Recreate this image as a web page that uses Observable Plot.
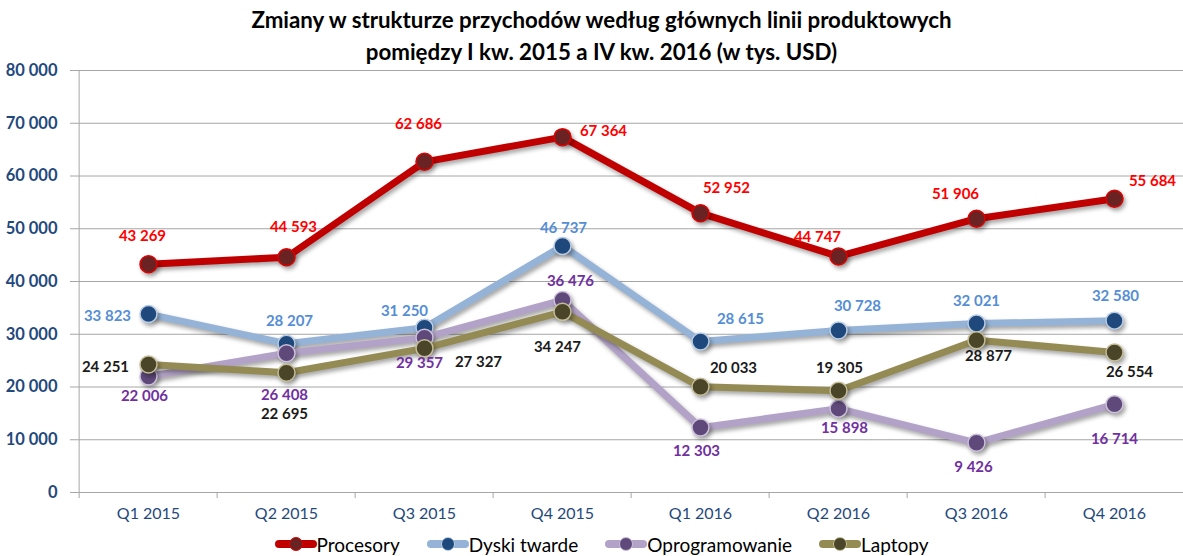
<!DOCTYPE html>
<html>
<head>
<meta charset="utf-8">
<script src="https://cdn.jsdelivr.net/npm/d3@7"></script>
<script src="https://cdn.jsdelivr.net/npm/@observablehq/plot@0.6"></script>
<style>
  html, body { margin: 0; padding: 0; background: #fff; }
  body { width: 1183px; height: 556px; position: relative; overflow: hidden; font-family: Lato, "Open Sans", sans-serif; }
  #title { position: absolute; top: 4px; left: 10px; width: 1183px; text-align: center; font-weight: bold; font-size: 22.3px; line-height: 32px; color: #000; }
  #chart { position: absolute; top: 62px; left: 0; }
  #legend { position: absolute; top: 531px; left: 10px; width: 1183px; display: flex; justify-content: center; gap: 27px; font-size: 19px; color: #000; }
  #legend .item { display: flex; align-items: center; gap: 0px; height: 26px; }
  g[aria-label="line"] path, g[aria-label="dot"] circle { filter: drop-shadow(2px 3px 2px rgba(0,0,0,0.35)); }
</style>
</head>
<body>
<div id="title">Zmiany w strukturze przychodów według głównych linii produktowych<br>pomiędzy I kw. 2015 a IV kw. 2016 (w tys. USD)</div>
<div id="chart"></div>
<div id="legend"></div>
<script>
// ---- data ----
const quarters = ["Q1 2015", "Q2 2015", "Q3 2015", "Q4 2015", "Q1 2016", "Q2 2016", "Q3 2016", "Q4 2016"];
const seriesNames = ["Procesory", "Dyski twarde", "Oprogramowanie", "Laptopy"];
const procesory = [43269, 44593, 62686, 67364, 52952, 44747, 51906, 55684];
const dyskiTwarde = [33823, 28207, 31250, 46737, 28615, 30728, 32021, 32580];
const oprogramowanie = [22006, 26408, 29357, 36476, 12303, 15898, 9426, 16714];
const laptopy = [24251, 22695, 27327, 34247, 20033, 19305, 28877, 26554];
const yTicks = [0, 10000, 20000, 30000, 40000, 50000, 60000, 70000, 80000];

// ---- styles ----
const seriesValues = [procesory, dyskiTwarde, oprogramowanie, laptopy];
const lineColors = ["#C00000", "#95B3D7", "#B3A2C7", "#948A54"];
const dotFill = ["#6B2222", "#1F497D", "#5F497A", "#4A4528"];
const dotStroke = ["#E00000", "#B9CDE5", "#CCC1DA", "#C4BD97"];
const labelColors = ["#FF0000", "#558ED5", "#7030A0", "#1A1A1A"];
// label placement offsets [dx, dy] per series/point
const labelOffsets = [
  [[-6,-28],[7,-30],[-6,-38],[41,-6],[26,-25],[-21,-19],[-21,-25],[38,-18]],
  [[-41,2],[3,-23],[-20,-16],[1,-18],[40,-22],[19,-24],[0,-22],[1,-24]],
  [[-4,20],[-2,42],[-5,26],[8,-19],[-4,24],[6,20],[-3,24],[0,35]],
  [[-43,3],[-2,41],[54,14],[-5,35],[33,-19],[1,-22],[12,16],[15,20]]
];

const fmt = v => d3.format(",")(v).replace(/,/g, " ");
const data = seriesNames.flatMap((name, i) => quarters.map((q, j) => ({series: name, q, value: seriesValues[i][j], i, j})));

const W = 1183, H = 462;
const xLeft = 76, xRight = 1186;
const step = (xRight - xLeft) / quarters.length;

const marks = [
  Plot.gridY(yTicks, {stroke: "#a6a6a6", strokeOpacity: 1}),
  Plot.ruleY([0], {stroke: "#a6a6a6"}),
  Plot.ruleX([quarters[0]], {dx: -step / 2, stroke: "#a6a6a6"}),
  Plot.ruleX(quarters, {x: d => d, y1: 0, y2: -1150, dx: -step / 2, stroke: "#a6a6a6"}),
  Plot.axisY(yTicks, {tickSize: 6, tickPadding: 13, tickFormat: fmt, fontSize: 16.5, fontWeight: "bold", fill: "#1F497D", stroke: "#a6a6a6", label: null}),
  Plot.axisX({tickSize: 0, tickPadding: 15, fontSize: 16, fill: "#1F497D", label: null})
];
seriesNames.forEach((name, i) => {
  const d = data.filter(r => r.i === i);
  marks.push(Plot.line(d, {x: "q", y: "value", stroke: lineColors[i], strokeWidth: 7, strokeLinejoin: "round"}));
  marks.push(Plot.dot(d, {x: "q", y: "value", r: 8.5, fill: dotFill[i], stroke: dotStroke[i], strokeWidth: 1.5}));
});
data.forEach(d => {
  const [dx, dy] = labelOffsets[d.i][d.j];
  marks.push(Plot.text([d], {x: "q", y: "value", text: r => fmt(r.value), dx, dy, fill: labelColors[d.i], fontSize: 15, fontWeight: "bold"}));
});

const chart = Plot.plot({
  width: W, height: H,
  marginLeft: 76, marginRight: 0, marginTop: 8, marginBottom: 32,
  style: {fontFamily: "Lato, sans-serif", background: "transparent", overflow: "visible"},
  x: {type: "point", domain: quarters, range: [xLeft, xRight], padding: 0.5, label: null},
  y: {domain: [0, 80000], range: [430, 8], label: null},
  marks
});
document.getElementById("chart").appendChild(chart);

// ---- legend ----
const legend = document.getElementById("legend");
seriesNames.forEach((name, i) => {
  const item = document.createElement("div");
  item.className = "item";
  item.innerHTML = `<svg width="42" height="16"><line x1="4" x2="38" y1="8" y2="8" stroke="${lineColors[i]}" stroke-width="8" stroke-linecap="round"/><circle cx="21" cy="8" r="6.5" fill="${dotFill[i]}" stroke="${dotStroke[i]}" stroke-width="1"/></svg><span>${name}</span>`;
  legend.appendChild(item);
});
</script>
</body>
</html>
